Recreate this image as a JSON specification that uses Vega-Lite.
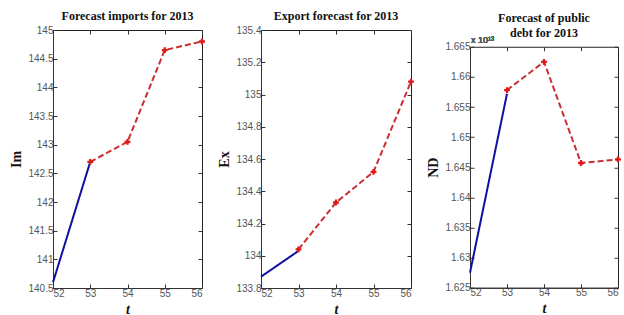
{
  "$schema": "https://vega.github.io/schema/vega-lite/v6.json",
  "background": "white",
  "padding": {"left": 9, "top": 9, "right": 0, "bottom": 0},
  "datasets": {
    "im": [
      {"t": 52, "v": 140.6, "series": "actual"},
      {"t": 53, "v": 142.7, "series": "actual"},
      {"t": 53, "v": 142.7, "series": "forecast"},
      {"t": 54, "v": 143.05, "series": "forecast"},
      {"t": 55, "v": 144.65, "series": "forecast"},
      {"t": 56, "v": 144.8, "series": "forecast"}
    ],
    "ex": [
      {"t": 52, "v": 133.87, "series": "actual"},
      {"t": 53, "v": 134.03, "series": "actual"},
      {"t": 53, "v": 134.04, "series": "forecast"},
      {"t": 54, "v": 134.33, "series": "forecast"},
      {"t": 55, "v": 134.52, "series": "forecast"},
      {"t": 56, "v": 135.08, "series": "forecast"}
    ],
    "nd": [
      {"t": 52, "v": 1.6275, "series": "actual"},
      {"t": 53, "v": 1.6572, "series": "actual"},
      {"t": 53, "v": 1.6578, "series": "forecast"},
      {"t": 54, "v": 1.6625, "series": "forecast"},
      {"t": 55, "v": 1.6457, "series": "forecast"},
      {"t": 56, "v": 1.6463, "series": "forecast"}
    ]
  },
  "config": {
    "view": {"stroke": "#222", "strokeWidth": 1},
    "axis": {
      "grid": false,
      "labelFont": "Liberation Sans",
      "labelFontSize": 10,
      "labelColor": "#555",
      "tickSize": -4,
      "tickColor": "#333",
      "domainColor": "#333",
      "titleFont": "Liberation Serif",
      "titleFontWeight": "bold",
      "titleFontSize": 14,
      "titleColor": "#111"
    },
    "title": {"font": "Liberation Serif", "fontSize": 12, "fontWeight": "bold", "color": "#111", "offset": 2}
  },
  "spacing": 10,
  "center": true,
  "hconcat": [
    {
      "width": 149,
      "height": 258,
      "title": "Forecast imports for 2013",
      "data": {"name": "im"},
      "layer": [
        {
          "mark": {"type": "line", "strokeWidth": 2},
          "encoding": {
            "x": {"field": "t", "type": "quantitative", "scale": {"domain": [52, 56], "nice": false}, "axis": {"values": [52, 53, 54, 55, 56], "format": "d", "title": ["t", " "], "titleLineHeight": 16.5, "titleFontStyle": "italic", "labelPadding": 4}},
            "y": {"field": "v", "type": "quantitative", "scale": {"domain": [140.5, 145], "nice": false, "zero": false}, "axis": {"values": [140.5, 141, 141.5, 142, 142.5, 143, 143.5, 144, 144.5, 145], "format": "~g", "title": "Im", "labelPadding": 4}},
            "color": {"field": "series", "type": "nominal", "scale": {"domain": ["actual", "forecast"], "range": ["#1010a0", "#c83030"]}, "legend": null},
            "strokeDash": {"field": "series", "type": "nominal", "scale": {"domain": ["actual", "forecast"], "range": [[1, 0], [6, 3]]}, "legend": null}
          }
        },
        {
          "transform": [{"filter": "datum.series === 'forecast'"}],
          "mark": {"type": "point", "shape": "cross", "filled": true, "size": 34, "color": "#e01818", "opacity": 1},
          "encoding": {
            "x": {"field": "t", "type": "quantitative", "axis": {"orient": "top", "values": [52, 53, 54, 55, 56], "labels": false, "title": null, "domain": false}},
            "y": {"field": "v", "type": "quantitative", "axis": {"orient": "right", "values": [140.5, 141, 141.5, 142, 142.5, 143, 143.5, 144, 144.5, 145], "labels": false, "title": null, "domain": false}}
          }
        }
      ],
      "resolve": {"axis": {"x": "independent", "y": "independent"}}
    },
    {
      "width": 150,
      "height": 258,
      "title": "Export forecast for 2013",
      "data": {"name": "ex"},
      "layer": [
        {
          "mark": {"type": "line", "strokeWidth": 2},
          "encoding": {
            "x": {"field": "t", "type": "quantitative", "scale": {"domain": [52, 56], "nice": false}, "axis": {"values": [52, 53, 54, 55, 56], "format": "d", "title": ["t", " "], "titleLineHeight": 16.5, "titleFontStyle": "italic", "labelPadding": 4}},
            "y": {"field": "v", "type": "quantitative", "scale": {"domain": [133.8, 135.4], "nice": false, "zero": false}, "axis": {"values": [133.8, 134, 134.2, 134.4, 134.6, 134.8, 135, 135.2, 135.4], "format": "~g", "title": "Ex", "labelPadding": 4}},
            "color": {"field": "series", "type": "nominal", "scale": {"domain": ["actual", "forecast"], "range": ["#1010a0", "#c83030"]}, "legend": null},
            "strokeDash": {"field": "series", "type": "nominal", "scale": {"domain": ["actual", "forecast"], "range": [[1, 0], [6, 3]]}, "legend": null}
          }
        },
        {
          "transform": [{"filter": "datum.series === 'forecast'"}],
          "mark": {"type": "point", "shape": "cross", "filled": true, "size": 34, "color": "#e01818", "opacity": 1},
          "encoding": {
            "x": {"field": "t", "type": "quantitative", "axis": {"orient": "top", "values": [52, 53, 54, 55, 56], "labels": false, "title": null, "domain": false}},
            "y": {"field": "v", "type": "quantitative", "axis": {"orient": "right", "values": [133.8, 134, 134.2, 134.4, 134.6, 134.8, 135, 135.2, 135.4], "labels": false, "title": null, "domain": false}}
          }
        }
      ],
      "resolve": {"axis": {"x": "independent", "y": "independent"}}
    },
    {
      "width": 148,
      "height": 241,
      "title": {"text": ["Forecast of public", "debt for 2013"], "lineHeight": 15, "offset": -4},
      "data": {"name": "nd"},
      "layer": [
        {
          "mark": {"type": "line", "strokeWidth": 2},
          "encoding": {
            "x": {"field": "t", "type": "quantitative", "scale": {"domain": [52, 56], "nice": false}, "axis": {"values": [52, 53, 54, 55, 56], "format": "d", "title": "t", "titleFontStyle": "italic", "labelPadding": 4}},
            "y": {"field": "v", "type": "quantitative", "scale": {"domain": [1.625, 1.665], "nice": false, "zero": false}, "axis": {"values": [1.625, 1.63, 1.635, 1.64, 1.645, 1.65, 1.655, 1.66, 1.665], "format": "~g", "title": "ND", "labelPadding": 4}},
            "color": {"field": "series", "type": "nominal", "scale": {"domain": ["actual", "forecast"], "range": ["#1010a0", "#c83030"]}, "legend": null},
            "strokeDash": {"field": "series", "type": "nominal", "scale": {"domain": ["actual", "forecast"], "range": [[1, 0], [6, 3]]}, "legend": null}
          }
        },
        {
          "transform": [{"filter": "datum.series === 'forecast'"}],
          "mark": {"type": "point", "shape": "cross", "filled": true, "size": 34, "color": "#e01818", "opacity": 1},
          "encoding": {
            "x": {"field": "t", "type": "quantitative", "axis": {"orient": "top", "values": [52, 53, 54, 55, 56], "labels": false, "title": null, "domain": false}},
            "y": {"field": "v", "type": "quantitative", "axis": {"orient": "right", "values": [1.625, 1.63, 1.635, 1.64, 1.645, 1.65, 1.655, 1.66, 1.665], "labels": false, "title": null, "domain": false}}
          }
        },
        {
          "mark": {"type": "text", "align": "left", "baseline": "bottom", "dy": -2, "dx": 1, "font": "Liberation Sans", "fontSize": 9, "color": "#555"},
          "encoding": {
            "x": {"datum": 52, "type": "quantitative", "axis": null},
            "y": {"datum": 1.665, "type": "quantitative", "axis": null},
            "text": {"value": "x 10¹³"}
          }
        }
      ],
      "resolve": {"axis": {"x": "independent", "y": "independent"}}
    }
  ]
}
